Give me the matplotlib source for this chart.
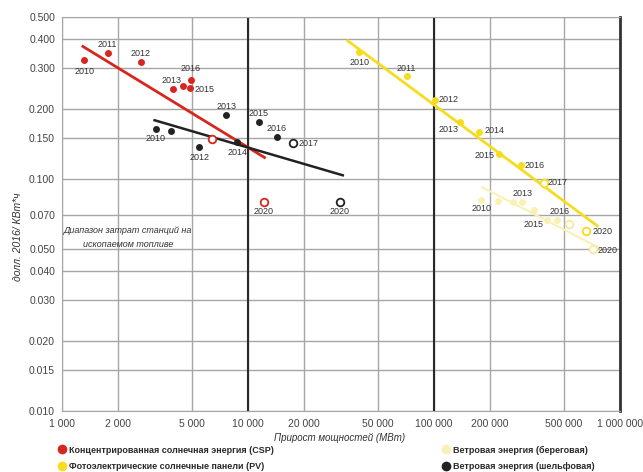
import matplotlib

matplotlib.use("Agg")
import matplotlib.pyplot as plt
from matplotlib.lines import Line2D
from matplotlib.ticker import FixedLocator, FixedFormatter, NullLocator

plt.rcParams["font.family"] = ["Liberation Sans Narrow", "Liberation Sans", "DejaVu Sans"]

# --- data (capacity MW, cost USD-2016 / kWh) ---
csp_x = [1320, 1760, 2650, 3940, 4490, 4900, 4940]
csp_y = [0.325, 0.349, 0.320, 0.245, 0.251, 0.246, 0.268]
csp_years = ["2010", "2011", "2012", "2013", "2014", "2015", "2016"]
csp_open_x = [6400, 12140]
csp_open_y = [0.149, 0.0797]
csp_open_years = ["2017", "2020"]
csp_trend_x = [1276, 12450]
csp_trend_y = [0.376, 0.123]

off_x = [3200, 3870, 5470, 7640, 8760, 11460, 14320]
off_y = [0.164, 0.162, 0.137, 0.189, 0.145, 0.176, 0.152]
off_years = ["2010", "2011", "2012", "2013", "2014", "2015", "2016"]
off_open_x = [17460, 31100]
off_open_y = [0.143, 0.0797]
off_open_years = ["2017", "2020"]
off_trend_x = [3100, 32800]
off_trend_y = [0.180, 0.1035]

pv_x = [39600, 71300, 100800, 138000, 174600, 222800, 293800]
pv_y = [0.352, 0.277, 0.220, 0.176, 0.160, 0.128, 0.115]
pv_years = ["2010", "2011", "2012", "2013", "2014", "2015", "2016"]
pv_open_x = [389000, 654000]
pv_open_y = [0.0962, 0.0600]
pv_open_years = ["2017", "2020"]
pv_trend_x = [33900, 764000]
pv_trend_y = [0.398, 0.0624]

on_x = [180000, 221000, 267000, 298000, 346000, 406000, 457000]
on_y = [0.081, 0.0805, 0.080, 0.0798, 0.0736, 0.0667, 0.0666]
on_years = ["2010", "2011", "2012", "2013", "2014", "2015", "2016"]
on_open_x = [534000, 718000]
on_open_y = [0.0641, 0.0500]
on_open_years = ["2017", "2020"]
on_trend_x = [179000, 797000]
on_trend_y = [0.0928, 0.0499]

x_ticks = [1000, 2000, 5000, 10000, 20000, 50000, 100000, 200000, 500000, 1000000]
x_tick_labels = ["1 000", "2 000", "5 000", "10 000", "20 000", "50 000",
                 "100 000", "200 000", "500 000", "1 000 000"]
y_ticks = [0.010, 0.015, 0.020, 0.030, 0.040, 0.050, 0.070, 0.100, 0.150,
           0.200, 0.300, 0.400, 0.500]

# label offsets (points) per year; years not listed get no label
csp_offsets = {"2010": (0, -8), "2011": (0, 6), "2012": (0, 6), "2013": (-1, 6),
               "2015": (10, -1), "2016": (0, 8), "2020": (0, -7)}
off_offsets = {"2010": (0, -7), "2012": (0, -7), "2013": (0, 6), "2014": (0, -8),
               "2015": (0, 6), "2016": (0, 6), "2017": (11, 0), "2020": (0, -7)}
pv_offsets = {"2010": (0, -7), "2011": (0, 6), "2012": (10, 0), "2013": (-8, -5),
              "2014": (11, 1), "2015": (-10, -1), "2016": (10, 0), "2017": (10, 0),
              "2020": (12, -1)}
on_offsets = {"2010": (0, -6), "2013": (0, 6), "2015": (-10, -3), "2016": (2, 6),
              "2020": (10, -1)}

RED = "#d7261e"
YELLOW = "#f5dc1e"
PALE = "#fbf0b4"
BLACK = "#222222"
LABEL = "#333333"

fig = plt.figure(figsize=(6.43, 4.72), dpi=100)
ax = fig.add_axes([62 / 643, 1 - 411 / 472, 558 / 643, 394 / 472])
ax.set_xscale("log")
ax.set_yscale("log")
ax.set_xlim(1000, 1000000)
ax.set_ylim(0.010, 0.500)

ax.xaxis.set_major_locator(FixedLocator(x_ticks))
ax.xaxis.set_major_formatter(FixedFormatter(x_tick_labels))
ax.xaxis.set_minor_locator(NullLocator())
ax.yaxis.set_major_locator(FixedLocator(y_ticks))
ax.yaxis.set_major_formatter(FixedFormatter([f"{v:.3f}" for v in y_ticks]))
ax.yaxis.set_minor_locator(NullLocator())
ax.tick_params(length=0, labelsize=7.5, colors="#444444")
ax.tick_params(axis="x", pad=6)
ax.tick_params(axis="y", pad=5)
ax.grid(True, color="#a6a6a6", lw=1.0)
ax.set_axisbelow(True)
for side in ["left", "top", "bottom"]:
    ax.spines[side].set_color("#a6a6a6")
ax.spines["right"].set_color("#333333")
ax.spines["right"].set_linewidth(2)
for xv in [10000, 100000]:
    ax.axvline(xv, color="#2a2a2a", lw=1.5, zorder=1)


def series(xs, ys, years, ox, oy, oyears, tx, ty, color, offsets, lw, mec=None):
    ax.plot(tx, ty, color=color, lw=lw, zorder=2, solid_capstyle="butt")
    ax.plot(xs, ys, "o", color=color, ms=5, mec="none", zorder=3)
    ax.plot(ox, oy, "o", mfc="white", mec=mec or color, mew=1.3, ms=5.5, zorder=3)
    for x, y, yr in list(zip(xs, ys, years)) + list(zip(ox, oy, oyears)):
        if yr in offsets:
            ax.annotate(yr, (x, y), xytext=offsets[yr], textcoords="offset points",
                        ha="center", va="center", fontsize=6.5, color=LABEL, zorder=4)


series(on_x, on_y, on_years, on_open_x, on_open_y, on_open_years,
       on_trend_x, on_trend_y, PALE, on_offsets, 1.5, mec="#f7e9a0")
series(csp_x, csp_y, csp_years, csp_open_x, csp_open_y, csp_open_years,
       csp_trend_x, csp_trend_y, RED, csp_offsets, 2.0)
series(off_x, off_y, off_years, off_open_x, off_open_y, off_open_years,
       off_trend_x, off_trend_y, BLACK, off_offsets, 1.8)
series(pv_x, pv_y, pv_years, pv_open_x, pv_open_y, pv_open_years,
       pv_trend_x, pv_trend_y, YELLOW, pv_offsets, 2.0)

ax.text(0.118, 0.44, "Диапазон затрат станций на\nископаемом топливе",
        transform=ax.transAxes, ha="center", va="center", fontsize=6.5,
        style="italic", color=LABEL, linespacing=1.8)

fig.text(18 / 643, 1 - 237 / 472, "долл. 2016/ КВт*ч", rotation=90, ha="center",
         va="center", fontsize=7.5, style="italic", color=LABEL)
fig.text(340 / 643, 1 - 438 / 472, "Прирост мощностей (МВт)", ha="center",
         va="center", fontsize=7, style="italic", color=LABEL)


def handle(color):
    return Line2D([], [], ls="none", marker="o", ms=7, mfc=color, mec="none")


leg_kw = dict(frameon=False, fontsize=6.5, handletextpad=0.3, labelspacing=0.85,
              borderpad=0, handlelength=1.0)
leg1 = fig.legend([handle(RED), handle(YELLOW)],
                  ["Концентрированная солнечная энергия (CSP)",
                   "Фотоэлектрические солнечные панели (PV)"],
                  loc="upper left", bbox_to_anchor=(53 / 643, 1 - 441 / 472), **leg_kw)
leg2 = fig.legend([handle(PALE), handle(BLACK)],
                  ["Ветровая энергия (береговая)", "Ветровая энергия (шельфовая)"],
                  loc="upper left", bbox_to_anchor=(437 / 643, 1 - 441 / 472), **leg_kw)
for leg in (leg1, leg2):
    for t in leg.get_texts():
        t.set_color("#2a2a2a")
        t.set_fontweight("bold")

fig.savefig("out.png", dpi=100)
